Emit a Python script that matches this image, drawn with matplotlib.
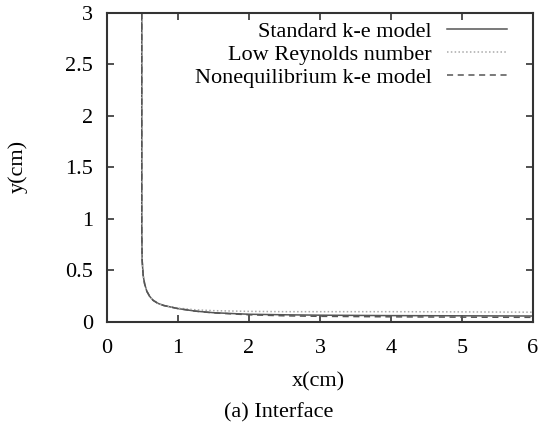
import matplotlib
matplotlib.use("Agg")
import matplotlib.pyplot as plt

# interface position, three turbulence models
x_std = [0.49, 0.49, 0.495, 0.51, 0.53, 0.56, 0.6, 0.65, 0.72, 0.8, 0.9, 1.0, 1.25, 1.5, 2.0, 2.5, 3.0, 4.0, 5.0, 6.0]
y_std = [3.0, 0.9, 0.6, 0.45, 0.37, 0.3, 0.25, 0.21, 0.18, 0.16, 0.145, 0.13, 0.105, 0.09, 0.075, 0.07, 0.066, 0.062, 0.06, 0.058]

x_low = [0.49, 0.49, 0.495, 0.51, 0.53, 0.56, 0.6, 0.65, 0.72, 0.8, 0.9, 1.0, 1.25, 1.5, 2.0, 2.5, 3.0, 4.0, 5.0, 6.0]
y_low = [3.0, 0.9, 0.6, 0.45, 0.37, 0.3, 0.25, 0.21, 0.18, 0.16, 0.145, 0.135, 0.118, 0.11, 0.103, 0.1, 0.1, 0.1, 0.098, 0.095]

x_neq = [0.49, 0.49, 0.495, 0.51, 0.53, 0.56, 0.6, 0.65, 0.72, 0.8, 0.9, 1.0, 1.25, 1.5, 2.0, 2.5, 3.0, 4.0, 5.0, 6.0]
y_neq = [3.0, 0.9, 0.6, 0.45, 0.37, 0.3, 0.25, 0.21, 0.18, 0.16, 0.145, 0.13, 0.105, 0.088, 0.07, 0.06, 0.055, 0.05, 0.047, 0.045]

labels = ["Standard k-e model", "Low Reynolds number", "Nonequilibrium k-e model"]
x_ticks = [0, 1, 2, 3, 4, 5, 6]
y_ticks = [0, 0.5, 1, 1.5, 2, 2.5, 3]
y_ticklabels = ["0", "0.5", "1", "1.5", "2", "2.5", "3"]

plt.rcParams["font.family"] = ["Liberation Serif", "DejaVu Serif"]
FS = 16

fig = plt.figure(figsize=(5.42, 4.30), dpi=100)
ax = fig.add_axes([0.1974, 0.2512, 0.786, 0.7186])

ax.plot(x_std, y_std, color="#555555", lw=1.1, ls="-", label=labels[0])
ax.plot(x_low, y_low, color="#aaaaaa", lw=1.1, ls=(0, (1, 1.5)), label=labels[1])
ax.plot(x_neq, y_neq, color="#555555", lw=1.1, ls=(0, (4, 3)), label=labels[2])

ax.set_xlim(0, 6)
ax.set_ylim(0, 3)
ax.set_xticks(x_ticks)
ax.set_yticks(y_ticks)
ax.set_yticklabels(y_ticklabels)
ax.tick_params(direction="in", top=True, right=True, length=5, width=1.2,
               color="#333333", labelsize=FS)
ax.tick_params(axis="x", pad=12)
ax.tick_params(axis="y", pad=10)
for s in ax.spines.values():
    s.set_linewidth(1.5)
    s.set_color("#333333")

xl = ax.set_xlabel("x(cm)", fontsize=FS)
ax.xaxis.set_label_coords(0.495, -0.194)
xl.set_va("center")
yl = ax.set_ylabel("y(cm)", fontsize=FS)
ax.yaxis.set_label_coords(-0.209, 0.502)
yl.set_va("center")

leg = ax.legend(loc="upper right", bbox_to_anchor=(0.939, 0.972), frameon=False,
                markerfirst=False, fontsize=FS, handlelength=2.7, handletextpad=0.7,
                labelspacing=0.1, borderaxespad=0.0, borderpad=0.0)

fig.text(0.515, 0.0395, "(a) Interface", ha="center", va="center", fontsize=FS)

fig.savefig("out.png", dpi=100)
